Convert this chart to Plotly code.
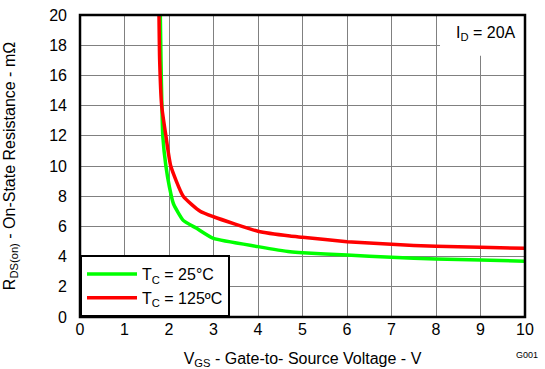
import plotly.graph_objects as go

vgs_25 = [1.805, 1.82, 1.84, 1.86, 1.93, 2.01, 2.10, 2.32, 2.62, 3.0, 4.0, 4.72, 5.0, 6.0, 7.0, 8.0, 9.0, 10.0]
rds_25 = [20.0, 17.0, 14.0, 12.0, 10.0, 8.6, 7.5, 6.4, 5.87, 5.2, 4.66, 4.32, 4.25, 4.1, 3.95, 3.84, 3.77, 3.7]
vgs_125 = [1.775, 1.79, 1.835, 1.93, 2.04, 2.32, 2.7, 3.0, 4.0, 4.72, 5.0, 6.0, 7.0, 8.0, 9.0, 10.0]
rds_125 = [20.0, 17.0, 14.0, 12.0, 10.0, 8.0, 7.0, 6.64, 5.68, 5.36, 5.28, 4.99, 4.81, 4.68, 4.62, 4.55]
x_ticks = list(range(0, 11))
y_ticks = list(range(0, 21, 2))

FONT = "Liberation Sans, Arial, sans-serif"
FS = 16

fig = go.Figure()
fig.add_trace(go.Scatter(x=vgs_25, y=rds_25, mode="lines", line=dict(color="#00ff00", width=3.5, shape="spline", smoothing=0.5),
                         name="T<sub>C</sub> = 25°C"))
fig.add_trace(go.Scatter(x=vgs_125, y=rds_125, mode="lines", line=dict(color="#ff0000", width=3.5, shape="spline", smoothing=0.5),
                         name="T<sub>C</sub> = 125ºC"))

axis_common = dict(showgrid=True, gridcolor="#808080", gridwidth=1, zeroline=False, showline=False,
                   ticks="", automargin=False, ticklabeloverflow="allow",
                   tickfont=dict(family=FONT, size=FS, color="black"))
fig.update_xaxes(range=[0, 10], tickvals=x_ticks, ticklabelstandoff=1, **axis_common,
                 title=dict(text="V<sub>GS</sub> - Gate-to- Source Voltage - V", font=dict(family=FONT, size=FS, color="black"), standoff=16))
fig.update_yaxes(range=[0, 20], tickvals=y_ticks, ticklabelstandoff=12, **axis_common,
                 title=dict(text="R<sub>DS(on)</sub> - On-State Resistance - mΩ", font=dict(family=FONT, size=FS, color="black"), standoff=29))

fig.add_shape(type="rect", xref="x", yref="y", x0=8.09, x1=10, y0=17.3, y1=20, fillcolor="white", line=dict(width=0), layer="above")
fig.add_annotation(x=9.13, y=18.8, xref="x", yref="y", text="I<sub>D</sub> = 20A", showarrow=False,
                   font=dict(family=FONT, size=FS, color="black"))
fig.add_shape(type="rect", xref="paper", yref="paper", x0=0, x1=1, y0=0, y1=1, line=dict(color="black", width=2.5), layer="above")
fig.add_annotation(x=1.034, y=-0.149, xref="paper", yref="paper", xanchor="right", text="G001", showarrow=False,
                   font=dict(family=FONT, size=9, color="black"))

fig.update_layout(
    width=545, height=369, margin=dict(l=80, r=20, t=15, b=52),
    plot_bgcolor="white", paper_bgcolor="white",
    legend=dict(x=0, y=0, xanchor="left", yanchor="bottom", bgcolor="white", bordercolor="black", borderwidth=2,
                font=dict(family=FONT, size=FS, color="black"), itemwidth=50, tracegroupgap=0),
    showlegend=True,
)
fig.write_html("out.html", config={"displayModeBar": False}, post_script="document.body.style.margin='0px';")
